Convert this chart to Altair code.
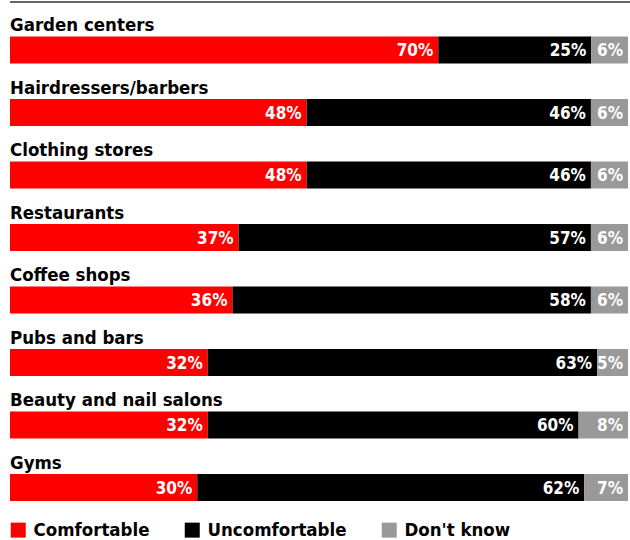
import altair as alt
import pandas as pd

categories = ["Garden centers", "Hairdressers/barbers", "Clothing stores", "Restaurants",
              "Coffee shops", "Pubs and bars", "Beauty and nail salons", "Gyms"]
comfortable = [70, 48, 48, 37, 36, 32, 32, 30]
uncomfortable = [25, 46, 46, 57, 58, 63, 60, 62]
dont_know = [6, 6, 6, 6, 6, 5, 8, 7]
responses = ["Comfortable", "Uncomfortable", "Don't know"]
colors = ["#ff0000", "#000000", "#999999"]

rows = []
for i, c in enumerate(categories):
    for j, (r, v) in enumerate(zip(responses, [comfortable[i], uncomfortable[i], dont_know[i]])):
        rows.append({"category": c, "response": r, "value": v, "order": j, "label": f"{v}%"})
df = pd.DataFrame(rows)
cats = pd.DataFrame({"category": categories})

FONT = "DejaVu Sans Condensed"

y = alt.Y("category:N", sort=categories, axis=None,
          scale=alt.Scale(paddingInner=0, paddingOuter=0))

bars = alt.Chart(df).mark_bar(size=27).encode(
    x=alt.X("value:Q", stack="normalize", axis=None, scale=alt.Scale(domain=[0, 1])),
    y=y,
    color=alt.Color("response:N", scale=alt.Scale(domain=responses, range=colors),
                    legend=alt.Legend(title=None, orient="none", legendX=-1, legendY=502,
                                      direction="horizontal", symbolType="square",
                                      symbolSize=225, symbolStrokeWidth=0,
                                      labelFont=FONT, labelFontSize=18.5, labelFontWeight="bold",
                                      labelColor="#000000", labelOffset=6, columnPadding=33)),
    order=alt.Order("order:Q"),
)

pct = alt.Chart(df).mark_text(align="right", baseline="middle", dx=-5, dy=1, color="white",
                              font=FONT, fontSize=17, fontWeight="bold").encode(
    x=alt.X("value:Q", stack="normalize"),
    y=y,
    detail="response:N",
    order=alt.Order("order:Q"),
    text="label:N",
)

names = alt.Chart(cats).mark_text(align="left", baseline="alphabetic", dy=-19, color="black",
                                  font=FONT, fontSize=18.5, fontWeight="bold").encode(
    x=alt.value(0),
    y=y,
    text="category:N",
)

topline = alt.Chart(cats).mark_rule(color="#666666", strokeWidth=1.5).encode(
    x=alt.value(0), x2=alt.value(620), y=alt.value(-16.75)
)

chart = alt.layer(bars, pct, names, topline).properties(
    width=618, height=500,
    autosize=alt.AutoSizeParams(type="none"),
    padding={"left": 10, "top": 18.75, "right": 2, "bottom": 21.25},
).configure_view(stroke=None)

chart.save("out.html", embed_options={"renderer": "svg", "actions": False})
